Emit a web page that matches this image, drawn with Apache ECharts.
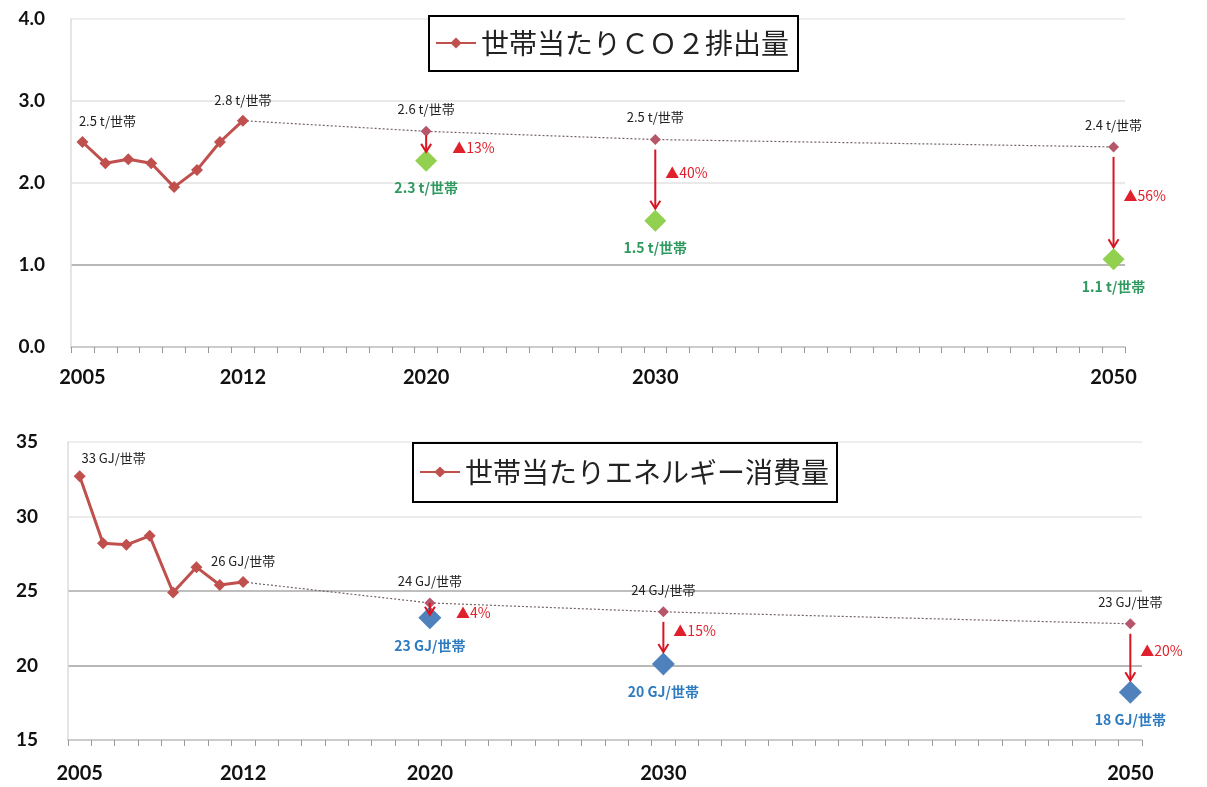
<!DOCTYPE html>
<html>
<head>
<meta charset="utf-8">
<script src="https://cdn.jsdelivr.net/npm/echarts@6/dist/echarts.min.js"></script>
<style>
html,body{margin:0;padding:0;background:#fff;}
#c{width:1207px;height:787px;}
</style>
</head>
<body>
<div id="c"></div>
<script>
// ---- data ----
const years = [];
for (let y = 2005; y <= 2050; y++) years.push(String(y));
const tickLabels = ['2005', '2012', '2020', '2030', '2050'];

const actualYears = ['2005', '2006', '2007', '2008', '2009', '2010', '2011', '2012'];
const forecastYears = ['2020', '2030', '2050'];

const co2Name = '世帯当たりＣＯ２排出量';
const co2Actual = [2.50, 2.24, 2.29, 2.24, 1.95, 2.16, 2.50, 2.76];
const co2Trend = [2.63, 2.53, 2.44];
const co2Target = [2.27, 1.54, 1.07];
const co2Reduction = ['▲13%', '▲40%', '▲56%'];

const enName = '世帯当たりエネルギー消費量';
const enActual = [32.7, 28.2, 28.1, 28.7, 24.9, 26.6, 25.4, 25.6];
const enTrend = [24.2, 23.6, 22.8];
const enTarget = [23.2, 20.1, 18.2];
const enReduction = ['▲4%', '▲15%', '▲20%'];

// ---- helpers ----
const FONT = '"Noto Sans CJK JP", "Noto Sans", sans-serif';
const RED = '#C0504D';
const TREND = '#B5566A';
const ARROW = '#DA1420';

function actualSeries(idx, name, vals, fmt, firstOffset) {
  return {
    type: 'line', name: name, xAxisIndex: idx, yAxisIndex: idx, z: 5,
    symbol: 'diamond', symbolSize: 12,
    itemStyle: { color: RED },
    lineStyle: { color: RED, width: 3 },
    data: vals.map((v, i) => {
      const item = { value: [actualYears[i], v] };
      if (i === 0 || i === vals.length - 1) {
        item.label = {
          show: true, position: 'top', distance: 8,
          offset: i === 0 ? firstOffset : [0, 0],
          formatter: p => fmt(p.value[1]),
          color: '#222', fontSize: 13, fontFamily: FONT
        };
      }
      return item;
    })
  };
}

function trendSeries(idx, startVal, vals, fmt) {
  const data = [{ value: [actualYears[actualYears.length - 1], startVal], symbol: 'none' }];
  vals.forEach((v, i) => data.push({ value: [forecastYears[i], v] }));
  return {
    type: 'line', name: 'trend' + idx, xAxisIndex: idx, yAxisIndex: idx, z: 4,
    symbol: 'diamond', symbolSize: 11,
    itemStyle: { color: TREND },
    lineStyle: { color: '#746464', width: 1.2, type: [2, 2] },
    label: {
      show: true, position: 'top', distance: 10,
      formatter: p => p.dataIndex === 0 ? '' : fmt(p.value[1]),
      color: '#222', fontSize: 13, fontFamily: FONT
    },
    data: data
  };
}

function targetSeries(idx, vals, fmt, color, labelColor, size) {
  return {
    type: 'scatter', name: 'target' + idx, xAxisIndex: idx, yAxisIndex: idx, z: 3,
    symbol: 'diamond', symbolSize: size,
    itemStyle: { color: color, opacity: 1 },
    label: {
      show: true, position: 'bottom', distance: 9,
      formatter: p => fmt(p.value[1]),
      color: labelColor, fontSize: 14, fontWeight: 'bold', fontFamily: FONT
    },
    data: vals.map((v, i) => [forecastYears[i], v])
  };
}

function arrowSeries(idx, trend, target, reductions) {
  return {
    type: 'custom', name: 'arrow' + idx, xAxisIndex: idx, yAxisIndex: idx, z: 6,
    encode: { x: 0, y: [1, 2] },
    renderItem: function (params, api) {
      const top = api.coord([api.value(0), api.value(1)]);
      const bot = api.coord([api.value(0), api.value(2)]);
      const x = top[0];
      const len = bot[1] - top[1];
      const shortA = len < 40;
      let s = top[1] + (shortA ? 4 : 10);
      let e = bot[1] - (shortA ? 9 : 12);
      if (e - s < 8) { s = top[1]; e = bot[1] - 3; }
      const txt = reductions[params.dataIndex];
      return {
        type: 'group',
        children: [
          { type: 'line', shape: { x1: x, y1: s, x2: x, y2: e },
            style: { stroke: ARROW, lineWidth: 2 } },
          { type: 'polyline', shape: { points: [[x - 5, e - 8], [x, e], [x + 5, e - 8]] },
            style: { stroke: ARROW, lineWidth: 2, fill: null } },
          { type: 'text',
            style: { text: txt, x: x + (shortA ? 26 : 10), y: (top[1] + bot[1]) / 2 + (shortA ? 2 : -7),
              fill: '#E0202A', fontSize: 14, fontFamily: FONT, align: 'left', verticalAlign: 'middle' } }
        ]
      };
    },
    data: forecastYears.map((y, i) => [y, trend[i], target[i]])
  };
}

function xAxis(idx, margin) {
  return {
    type: 'category', gridIndex: idx, data: years, boundaryGap: true,
    axisLine: { lineStyle: { color: '#c8c8c8', width: 1.5 } },
    axisTick: { show: true, interval: 0, length: 6, lineStyle: { color: '#999' } },
    axisLabel: {
      interval: (i, v) => tickLabels.indexOf(v) >= 0,
      color: '#111', fontSize: 20, fontWeight: 'bold', fontFamily: 'Lato, sans-serif', margin: margin
    },
    splitLine: { show: false }
  };
}

function yAxis(idx, min, max, interval, fmt, colors, margin) {
  return {
    type: 'value', gridIndex: idx, min: min, max: max, interval: interval,
    axisLine: { show: true, lineStyle: { color: '#dcdcdc', width: 1.5 } },
    axisTick: { show: false },
    axisLabel: { formatter: fmt, color: '#111', fontSize: 19, fontWeight: 'bold', fontFamily: 'Lato, sans-serif', margin: margin },
    splitLine: { show: true, lineStyle: { color: colors, width: 1.5 } }
  };
}

const fmtT = v => v.toFixed(1) + ' t/世帯';
const fmtG = v => Math.round(v) + ' GJ/世帯';

const option = {
  animation: false,
  backgroundColor: '#fff',
  textStyle: { fontFamily: FONT },
  grid: [
    { left: 71, right: 82, top: 19, height: 328 },
    { left: 68, right: 65, top: 442, height: 298 }
  ],
  xAxis: [xAxis(0, 21), xAxis(1, 24)],
  yAxis: [
    yAxis(0, 0, 4, 1, v => v.toFixed(1), ['#ccc', '#a0a0a0', '#e2e2e2', '#e2e2e2', '#e8e8e8'], 26),
    yAxis(1, 15, 35, 5, v => String(v), ['#ccc', '#a0a0a0', '#a8a8a8', '#e6e6e6', '#e8e8e8'], 30)
  ],
  legend: [
    { data: [co2Name], left: 429, top: 16, orient: 'horizontal',
      borderColor: '#000', borderWidth: 2, backgroundColor: '#fff', padding: [13, 9, 14, 6],
      itemWidth: 40, itemHeight: 14, selectedMode: false,
      textStyle: { fontSize: 28, color: '#222', fontFamily: FONT } },
    { data: [enName], left: 413, top: 443, orient: 'horizontal',
      borderColor: '#000', borderWidth: 2, backgroundColor: '#fff', padding: [15, 8, 16, 6],
      itemWidth: 40, itemHeight: 14, selectedMode: false,
      textStyle: { fontSize: 28, color: '#222', fontFamily: FONT } }
  ],
  series: [
    actualSeries(0, co2Name, co2Actual, fmtT, [25, 0]),
    trendSeries(0, co2Actual[co2Actual.length - 1], co2Trend, fmtT),
    targetSeries(0, co2Target, fmtT, '#92D050', '#2F9A60', 22),
    arrowSeries(0, co2Trend, co2Target, co2Reduction),
    actualSeries(1, enName, enActual, fmtG, [34, 2]),
    trendSeries(1, enActual[enActual.length - 1], enTrend, fmtG),
    targetSeries(1, enTarget, fmtG, '#4F81BD', '#2E7BBF', 23),
    arrowSeries(1, enTrend, enTarget, enReduction)
  ]
};

const chart = echarts.init(document.getElementById('c'), null, { renderer: 'canvas' });
chart.setOption(option);
</script>
</body>
</html>
